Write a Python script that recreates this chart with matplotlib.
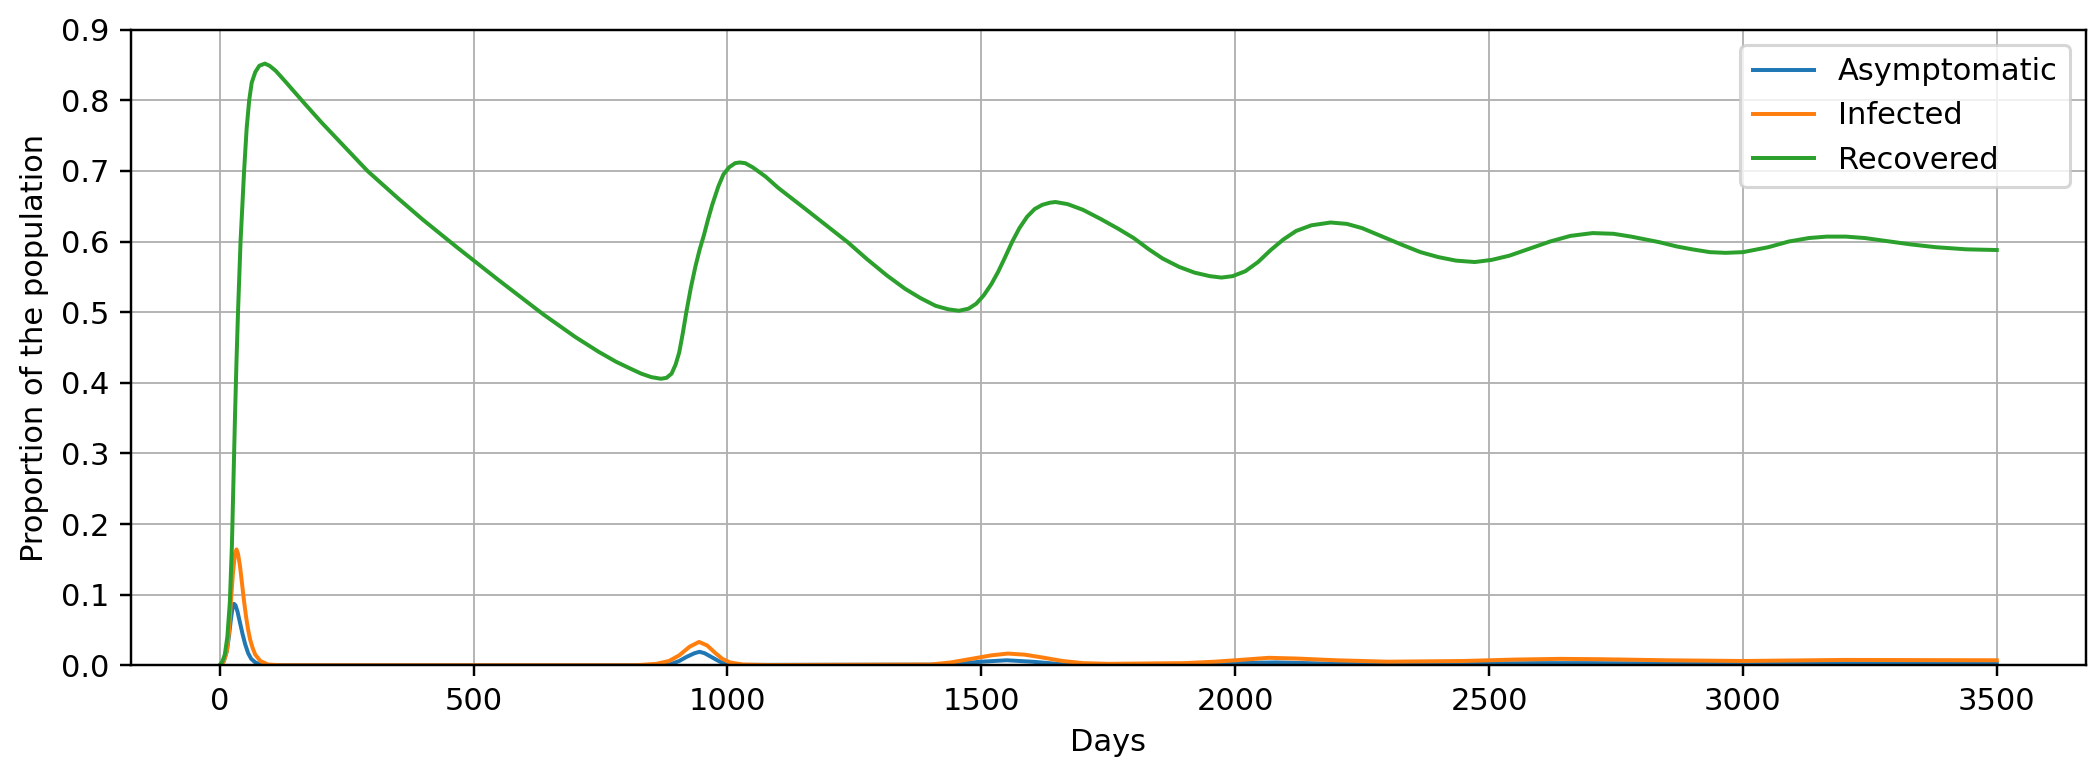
import matplotlib
matplotlib.use("Agg")
import matplotlib.pyplot as plt

# values
rec_days = [0, 5, 10, 15, 20, 24, 27, 30, 33, 36, 41, 48, 53, 58, 63, 70, 78, 89, 98,
            110, 130, 164, 200, 250, 291, 350, 400, 467, 550, 637, 700, 746, 780,
            806, 830, 850, 869, 880, 890, 898, 905, 912, 919, 928, 937, 945, 954,
            962, 970, 982, 992, 1003, 1015, 1024, 1035, 1050, 1075, 1100, 1152,
            1200, 1237, 1275, 1314, 1350, 1380, 1410, 1435, 1456, 1475, 1490, 1505,
            1520, 1533, 1545, 1561, 1575, 1590, 1605, 1620, 1635, 1646, 1670, 1700,
            1735, 1770, 1800, 1830, 1857, 1890, 1920, 1950, 1973, 1995, 2020, 2045,
            2070, 2095, 2120, 2150, 2188, 2220, 2250, 2290, 2330, 2365, 2400, 2435,
            2472, 2505, 2540, 2580, 2620, 2660, 2704, 2745, 2780, 2836, 2870, 2900,
            2935, 2966, 3000, 3050, 3090, 3130, 3165, 3203, 3240, 3280, 3330, 3380,
            3440, 3500]
recovered = [0.0, 0.005, 0.015, 0.04, 0.09, 0.17, 0.26, 0.35, 0.43, 0.50, 0.60,
             0.70, 0.76, 0.80, 0.825, 0.84, 0.849, 0.852, 0.849, 0.842, 0.826, 0.798,
             0.769, 0.731, 0.70, 0.662, 0.631, 0.592, 0.545, 0.497, 0.465, 0.444,
             0.43, 0.421, 0.413, 0.408, 0.4057, 0.407, 0.413, 0.426, 0.443, 0.47,
             0.50, 0.535, 0.565, 0.588, 0.61, 0.632, 0.652, 0.678, 0.695, 0.705,
             0.711, 0.712, 0.711, 0.705, 0.692, 0.676, 0.647, 0.62, 0.599, 0.575,
             0.552, 0.533, 0.52, 0.509, 0.504, 0.502, 0.505, 0.512, 0.524, 0.54,
             0.557, 0.575, 0.60, 0.619, 0.635, 0.646, 0.652, 0.655, 0.656, 0.653,
             0.645, 0.632, 0.618, 0.605, 0.589, 0.576, 0.564, 0.556, 0.551, 0.549,
             0.551, 0.558, 0.571, 0.588, 0.603, 0.615, 0.623, 0.627, 0.625, 0.619,
             0.607, 0.595, 0.585, 0.578, 0.573, 0.571, 0.574, 0.580, 0.590, 0.600,
             0.608, 0.612, 0.611, 0.607, 0.599, 0.593, 0.589, 0.585, 0.584, 0.585,
             0.592, 0.600, 0.605, 0.607, 0.607, 0.605, 0.601, 0.596, 0.592, 0.589,
             0.588]

asy_days = [0, 8, 14, 18, 22, 25, 28, 31, 35, 40, 45, 50, 56, 62, 70, 80, 100, 870,
            890, 905, 920, 935, 945, 955, 970, 985, 1000, 1030, 1400, 1450, 1500,
            1550, 1600, 1650, 1750, 1900, 2000, 2080, 2200, 2400, 2600, 2700, 3000,
            3200, 3500]
asymptomatic = [0.0, 0.006, 0.02, 0.04, 0.065, 0.08, 0.087, 0.085, 0.076, 0.06,
                0.044, 0.03, 0.017, 0.009, 0.004, 0.001, 0.0, 0.0, 0.002, 0.006,
                0.012, 0.017, 0.019, 0.017, 0.011, 0.005, 0.002, 0.0005, 0.0008,
                0.002, 0.005, 0.007, 0.005, 0.002, 0.001, 0.001, 0.003, 0.004,
                0.002, 0.002, 0.003, 0.003, 0.002, 0.003, 0.003]

inf_days = [0, 8, 14, 18, 22, 26, 30, 33, 36, 40, 44, 48, 52, 56, 60, 65, 70, 80, 95,
            120, 820, 860, 885, 905, 925, 944, 960, 975, 990, 1005, 1030, 1080,
            1400, 1440, 1480, 1520, 1552, 1585, 1620, 1660, 1700, 1750, 1900, 1960,
            2000, 2066, 2120, 2200, 2300, 2450, 2550, 2640, 2720, 2850, 3000, 3200,
            3500]
infected = [0.0, 0.005, 0.02, 0.045, 0.09, 0.13, 0.158, 0.164, 0.158, 0.14, 0.115,
            0.09, 0.068, 0.05, 0.036, 0.024, 0.015, 0.006, 0.001, 0.0, 0.0, 0.002,
            0.006, 0.014, 0.026, 0.033, 0.028, 0.018, 0.009, 0.004, 0.001, 0.0003,
            0.001, 0.004, 0.009, 0.014, 0.0165, 0.015, 0.011, 0.006, 0.003, 0.002,
            0.003, 0.005, 0.007, 0.0105, 0.0095, 0.007, 0.005, 0.006, 0.008, 0.009,
            0.0085, 0.007, 0.006, 0.0075, 0.007]

dpi = 220
fig = plt.figure(figsize=(2094 / dpi, 762 / dpi), dpi=dpi)
ax = fig.add_axes([0.0625, 0.127, 0.9335, 0.834])

ax.plot(asy_days, asymptomatic, label="Asymptomatic", lw=1.3)
ax.plot(inf_days, infected, label="Infected", lw=1.3)
ax.plot(rec_days, recovered, label="Recovered", lw=1.3)

ax.set_ylim(0, 0.9)
ax.set_yticks([i / 10 for i in range(10)])
ax.set_xlabel("Days")
ax.set_ylabel("Proportion of the population")
ax.grid(True, lw=0.6)
ax.legend(loc="upper right")

fig.savefig("out.png", dpi=dpi)
